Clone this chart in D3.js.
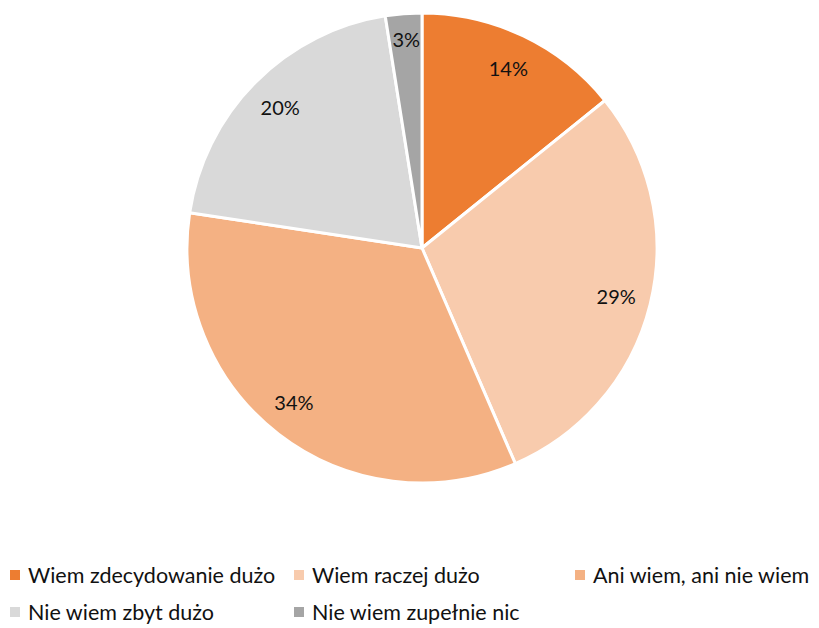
<!DOCTYPE html>
<html><head><meta charset="utf-8">
<script src="https://cdn.jsdelivr.net/npm/d3@7"></script>
<style>body{margin:0;background:#fff}svg{display:block}</style>
</head><body>
<script>
const categories = ["Wiem zdecydowanie dużo","Wiem raczej dużo","Ani wiem, ani nie wiem","Nie wiem zbyt dużo","Nie wiem zupełnie nic"];
const values = [14.2, 29.3, 33.9, 20.1, 2.5];
const labels = ["14%","29%","34%","20%","3%"];
const colors = ["#ED7D31","#F8CBAD","#F4B183","#D9D9D9","#A5A5A5"];

const W = 819, H = 628;
const svg = d3.select("body").append("svg").attr("width", W).attr("height", H);
const cx = 422, cy = 248, R = 235;
const font = "Lato, 'Open Sans', sans-serif";

const pie = d3.pie().sort(null).value(d => d)(values);
const arc = d3.arc().innerRadius(0).outerRadius(R);
const labelArc = d3.arc().innerRadius(200).outerRadius(200);

const g = svg.append("g").attr("transform", `translate(${cx},${cy})`);
g.selectAll("path").data(pie).join("path")
  .attr("d", arc).attr("fill", (d,i) => colors[i])
  .attr("stroke", "#fff").attr("stroke-width", 3).attr("stroke-linejoin","round");

g.selectAll("text").data(pie).join("text")
  .attr("transform", (d,i) => {
    const [x,y] = labelArc.centroid(d);
    return `translate(${x + (i===2 ? -6 : 0)},${y + (i===4 ? -10 : i===2 ? -4 : 0)})`;
  })
  .attr("text-anchor","middle").attr("dominant-baseline","central")
  .attr("font-family", font).attr("font-size", 20).attr("fill", "#111")
  .text((d,i) => labels[i]);

const legendPos = [[10,575],[294,575],[575,575],[10,612],[294,612]];
const lg = svg.append("g");
categories.forEach((c,i) => {
  const [x,y] = legendPos[i];
  lg.append("rect").attr("x", x).attr("y", y-5).attr("width", 10).attr("height", 10).attr("fill", colors[i]);
  lg.append("text").attr("x", x+18).attr("y", y).attr("dominant-baseline","central")
    .attr("font-family", font).attr("font-size", 21.5).attr("fill","#111").text(c);
});
</script>
</body></html>
